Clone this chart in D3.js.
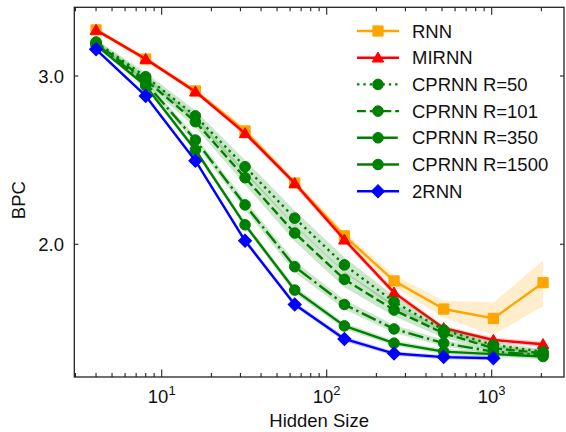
<!DOCTYPE html>
<html>
<head>
<meta charset="utf-8">
<script src="https://cdn.jsdelivr.net/npm/d3@7"></script>
<style>
  body { margin: 0; background: #fff; }
  svg { display: block; font-family: "Liberation Sans", Arial, Helvetica, sans-serif; }
</style>
</head>
<body>
<div id="chart"></div>
<script>
// hidden sizes
const hidden = [4, 8, 16, 32, 64, 128, 256, 512, 1024, 2048];

// BPC per model (mean), std as band half-width
const rnn      = [3.352, 3.125, 2.894, 2.628, 2.318, 2.041, 1.831, 1.711, 1.673, 1.823];
const rnnStd   = [0.02, 0.02, 0.02, 0.02, 0.02, 0.02, 0.025, 0.035, 0.065, 0.10];
const mirnn    = [3.352, 3.125, 2.889, 2.613, 2.317, 2.022, 1.780, 1.634, 1.588, 1.572];
const mirnnStd = [0.015, 0.015, 0.015, 0.015, 0.015, 0.015, 0.012, 0.01, 0.01, 0.01];
const cp50     = [3.256, 2.995, 2.725, 2.411, 2.130, 1.903, 1.741, 1.627, 1.569, 1.544];
const cp50Std  = [0.02, 0.03, 0.035, 0.04, 0.04, 0.035, 0.025, 0.018, 0.012, 0.01];
const cp101    = [3.248, 2.971, 2.687, 2.348, 2.055, 1.838, 1.707, 1.614, 1.557, 1.538];
const cp101Std = [0.02, 0.03, 0.035, 0.04, 0.04, 0.035, 0.025, 0.018, 0.012, 0.01];
const cp350    = [3.240, 2.950, 2.571, 2.199, 1.895, 1.730, 1.631, 1.576, 1.544, 1.532];
const cp350Std = [0.02, 0.02, 0.025, 0.025, 0.025, 0.02, 0.015, 0.012, 0.01, 0.01];
const cp1500   = [3.232, 2.929, 2.510, 2.096, 1.791, 1.643, 1.576, 1.544, 1.535, 1.526];
const cp1500Std= [0.015, 0.015, 0.015, 0.015, 0.015, 0.012, 0.01, 0.01, 0.01, 0.01];
const rnn2     = [3.199, 2.859, 2.446, 2.017, 1.730, 1.592, 1.537, 1.524, 1.520];
const rnn2Std  = [0.012, 0.012, 0.012, 0.012, 0.01, 0.01, 0.008, 0.008, 0.008];

const xTicks = [10, 100, 1000];
const yTicks = [2.0, 3.0];

const series = [
    {name: "RNN",          y: rnn,    sd: rnnStd,    color: "#ffa500", marker: "square",   dash: null},
    {name: "MIRNN",        y: mirnn,  sd: mirnnStd,  color: "#ff0000", marker: "triangle", dash: null},
    {name: "CPRNN R=50",   y: cp50,   sd: cp50Std,   color: "#008000", marker: "circle",   dash: "dot"},
    {name: "CPRNN R=101",  y: cp101,  sd: cp101Std,  color: "#008000", marker: "circle",   dash: "dash"},
    {name: "CPRNN R=350",  y: cp350,  sd: cp350Std,  color: "#008000", marker: "circle",   dash: "dashdot"},
    {name: "CPRNN R=1500", y: cp1500, sd: cp1500Std, color: "#008000", marker: "circle",   dash: null},
    {name: "2RNN",         y: rnn2,   sd: rnn2Std,   color: "#0000ff", marker: "diamond",  dash: null}
];

const W = 566, H = 432;
const margin = {top: 7.3, right: 2, bottom: 55, left: 74.3};
const lw = 2.4;
const dashes = {
    dot: [lw * 1, lw * 1.65],
    dash: [lw * 3.7, lw * 1.6],
    dashdot: [lw * 6.4, lw * 1.6, lw * 1, lw * 1.6]
};

const svg = d3.select("#chart").append("svg")
    .attr("width", W)
    .attr("height", H);

const x = d3.scaleLog()
    .domain([2.953, 2743])
    .range([margin.left, W - margin.right]);

const y = d3.scaleLog()
    .domain([1.4526, 3.540])
    .range([H - margin.bottom, margin.top]);

svg.append("clipPath").attr("id", "clip")
    .append("rect")
    .attr("x", margin.left).attr("y", margin.top)
    .attr("width", W - margin.right - margin.left)
    .attr("height", H - margin.bottom - margin.top);

const plot = svg.append("g").attr("clip-path", "url(#clip)");

const symbolFor = {
    square: d3.symbol().type(d3.symbolSquare).size(105),
    triangle: d3.symbol().type(d3.symbolTriangle2).size(95),
    circle: d3.symbol().type(d3.symbolCircle).size(88),
    diamond: d3.symbol().type(d3.symbolSquare).size(85)
};

function drawMarker(g, s, cx, cy) {
    const p = g.append("path")
        .attr("d", symbolFor[s.marker]())
        .attr("fill", s.color)
        .attr("stroke", s.color)
        .attr("stroke-width", 1);
    if (s.marker === "diamond") {
        p.attr("transform", `translate(${cx},${cy}) rotate(45)`);
    } else if (s.marker === "triangle") {
        p.attr("transform", `translate(${cx},${cy + 1})`);
    } else {
        p.attr("transform", `translate(${cx},${cy})`);
    }
}

series.forEach(s => {
    const pts = s.y.map((v, i) => ({h: hidden[i], v: v, sd: s.sd[i]}));

    const area = d3.area()
        .x(d => x(d.h))
        .y0(d => y(d.v - d.sd))
        .y1(d => y(d.v + d.sd));

    plot.append("path")
        .datum(pts)
        .attr("d", area)
        .attr("fill", s.color)
        .attr("fill-opacity", 0.2)
        .attr("stroke", "none");

    const line = d3.line()
        .x(d => x(d.h))
        .y(d => y(d.v));

    plot.append("path")
        .datum(pts)
        .attr("d", line)
        .attr("fill", "none")
        .attr("stroke", s.color)
        .attr("stroke-width", lw)
        .attr("stroke-linejoin", "round")
        .attr("stroke-dasharray", s.dash ? dashes[s.dash].join(",") : null);

    const mg = plot.append("g");
    pts.forEach(d => drawMarker(mg, s, x(d.h), y(d.v)));
});

// frame
const x0 = margin.left, x1 = W - margin.right, y0 = H - margin.bottom, y1 = margin.top;
svg.append("rect")
    .attr("x", x0).attr("y", y1)
    .attr("width", x1 - x0).attr("height", y0 - y1)
    .attr("fill", "none")
    .attr("stroke", "#222")
    .attr("stroke-width", 1.3);

// x ticks (inward, top and bottom)
const minorX = [];
for (let e = 0; e <= 3; e++) {
    for (let m = 2; m <= 9; m++) {
        const v = m * Math.pow(10, e);
        if (v > x.domain()[0] && v < x.domain()[1]) minorX.push(v);
    }
}
const tickG = svg.append("g").attr("stroke", "#222").attr("stroke-width", 1.1);
xTicks.forEach(t => {
    tickG.append("line").attr("x1", x(t)).attr("x2", x(t)).attr("y1", y0).attr("y2", y0 - 7.5);
    tickG.append("line").attr("x1", x(t)).attr("x2", x(t)).attr("y1", y1).attr("y2", y1 + 7.5);
});
minorX.forEach(t => {
    tickG.append("line").attr("x1", x(t)).attr("x2", x(t)).attr("y1", y0).attr("y2", y0 - 4);
    tickG.append("line").attr("x1", x(t)).attr("x2", x(t)).attr("y1", y1).attr("y2", y1 + 4);
});
yTicks.forEach(t => {
    tickG.append("line").attr("x1", x0).attr("x2", x0 + 4).attr("y1", y(t)).attr("y2", y(t));
    tickG.append("line").attr("x1", x1).attr("x2", x1 - 4).attr("y1", y(t)).attr("y2", y(t));
});

// tick labels
const fs = 18.5;
xTicks.forEach(t => {
    const txt = svg.append("text")
        .attr("x", x(t))
        .attr("y", 403)
        .attr("text-anchor", "middle")
        .attr("font-size", fs)
        .attr("fill", "#111");
    txt.append("tspan").text("10");
    txt.append("tspan")
        .attr("dy", -8)
        .attr("font-size", 13)
        .text(Math.round(Math.log10(t)));
});

yTicks.forEach(t => {
    svg.append("text")
        .attr("x", 64)
        .attr("y", y(t))
        .attr("dy", "0.36em")
        .attr("text-anchor", "end")
        .attr("font-size", fs)
        .attr("fill", "#111")
        .text(d3.format(".1f")(t));
});

// axis titles
svg.append("text")
    .attr("x", (x0 + x1) / 2)
    .attr("y", 427)
    .attr("text-anchor", "middle")
    .attr("font-size", fs)
    .attr("fill", "#111")
    .text("Hidden Size");

svg.append("text")
    .attr("transform", `translate(25,${(y0 + y1) / 2 + 8}) rotate(-90)`)
    .attr("text-anchor", "middle")
    .attr("font-size", fs)
    .attr("fill", "#111")
    .text("BPC");

// legend
const legend = svg.append("g");
const legY0 = 31, legStep = 26.7;
series.forEach((s, i) => {
    const ly = legY0 + i * legStep;
    legend.append("line")
        .attr("x1", 357).attr("x2", 399)
        .attr("y1", ly).attr("y2", ly)
        .attr("stroke", s.color)
        .attr("stroke-width", lw)
        .attr("stroke-dasharray", s.dash ? dashes[s.dash].join(",") : null);
    drawMarker(legend, s, 378, ly);
    legend.append("text")
        .attr("x", 412)
        .attr("y", ly)
        .attr("dy", "0.36em")
        .attr("font-size", fs)
        .attr("fill", "#111")
        .text(s.name);
});
</script>
</body>
</html>
